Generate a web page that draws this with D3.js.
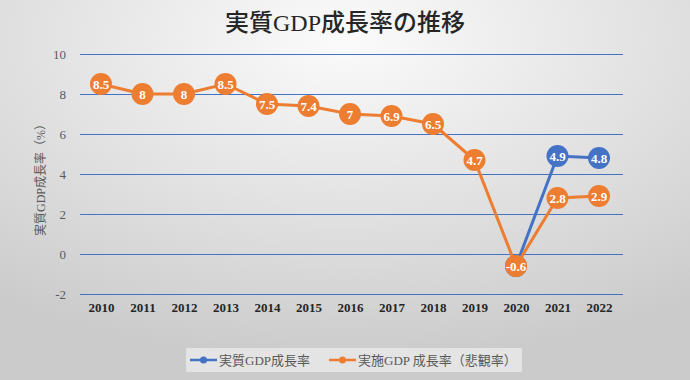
<!DOCTYPE html>
<html><head><meta charset="utf-8">
<script src="https://cdn.jsdelivr.net/npm/d3@7"></script>
<style>body{margin:0;padding:0;overflow:hidden}svg{display:block}</style>
</head><body>
<svg id="chart" width="690" height="380"></svg>
<script>
const years = ["2010","2011","2012","2013","2014","2015","2016","2017","2018","2019","2020","2021","2022"];
const realGDP = [null,null,null,null,null,null,null,null,null,null,-0.6,4.9,4.8];
const pessimistic = [8.5,8,8,8.5,7.5,7.4,7,6.9,6.5,4.7,-0.6,2.8,2.9];
const yTicks = [-2,0,2,4,6,8,10];
const seriesNames = ["実質GDP成長率","実施GDP 成長率（悲観率）"];
const colors = ["#4472C4","#ED7D31"];

const W = 690, H = 380;
const svg = d3.select("#chart");
const defs = svg.append("defs");
const rg = defs.append("radialGradient").attr("id","bg").attr("cx","50%").attr("cy","10%").attr("r","85%")
  .attr("gradientUnits","objectBoundingBox");
rg.append("stop").attr("offset","0%").attr("stop-color","#fbfbfb");
rg.append("stop").attr("offset","100%").attr("stop-color","#cbcbcb");
svg.append("rect").attr("width",W).attr("height",H).attr("fill","url(#bg)");

const x = d3.scalePoint().domain(years).range([101,599]);
const y = d3.scaleLinear().domain([-2,10]).range([294,54]);
const serif = "'Liberation Serif','Noto Sans CJK JP',serif";

// title
svg.append("text").attr("x",345).attr("y",31).attr("text-anchor","middle")
  .attr("font-family",serif).attr("font-size",24).attr("font-weight",500).attr("fill","#262626").text("実質GDP成長率の推移");

// grid
const yAxis = d3.axisLeft(y).tickValues(yTicks).tickSize(-(623-80)).tickPadding(14).tickFormat(d=>String(d));
const gy = svg.append("g").attr("transform","translate(80,0)").call(yAxis);
gy.select(".domain").remove();
gy.selectAll(".tick line").attr("stroke","#4472C4").attr("stroke-width",1);
gy.selectAll(".tick text").attr("font-family",serif).attr("font-size",13).attr("fill","#595959");

// x labels
const xAxis = d3.axisBottom(x).tickSize(0).tickPadding(9);
const gx = svg.append("g").attr("transform","translate(0,294)").call(xAxis);
gx.select(".domain").remove();
gx.selectAll(".tick text").attr("font-family",serif).attr("font-size",13).attr("font-weight","bold").attr("fill","#262626");

// y axis title
svg.append("text").attr("transform","translate(45,177) rotate(-90)").attr("text-anchor","middle")
  .attr("font-family",serif).attr("font-size",12).attr("fill","#595959").text("実質GDP成長率（%）");

function drawSeries(vals, color){
  const data = vals.map((v,i)=>({year:years[i],v})).filter(d=>d.v!==null);
  const line = d3.line().x(d=>x(d.year)).y(d=>y(d.v));
  svg.append("path").datum(data).attr("d",line).attr("fill","none").attr("stroke",color).attr("stroke-width",3);
  const g = svg.append("g");
  const pts = g.selectAll("g").data(data).enter().append("g")
    .attr("transform",d=>`translate(${x(d.year)},${y(d.v)})`);
  pts.append("circle").attr("r",11).attr("fill",color);
  pts.append("text").attr("text-anchor","middle").attr("dy","0.35em")
    .attr("font-family",serif).attr("font-weight","bold").attr("font-size",13).attr("fill","#fff")
    .text(d=>String(d.v));
}
drawSeries(realGDP, colors[0]);
drawSeries(pessimistic, colors[1]);

// legend
const lg = svg.append("g");
lg.append("rect").attr("x",186).attr("y",348).attr("width",336).attr("height",24).attr("fill","#e4e4e4");
const items = [{x:190,name:seriesNames[0],c:colors[0]},{x:329,name:seriesNames[1],c:colors[1]}];
items.forEach(it=>{
  lg.append("line").attr("x1",it.x).attr("x2",it.x+27).attr("y1",360).attr("y2",360).attr("stroke",it.c).attr("stroke-width",2.5);
  lg.append("circle").attr("cx",it.x+13.5).attr("cy",360).attr("r",3.5).attr("fill",it.c);
  lg.append("text").attr("x",it.x+29).attr("y",364.5).attr("font-family",serif).attr("font-size",13).attr("fill","#595959").text(it.name);
});
</script>
</body></html>
